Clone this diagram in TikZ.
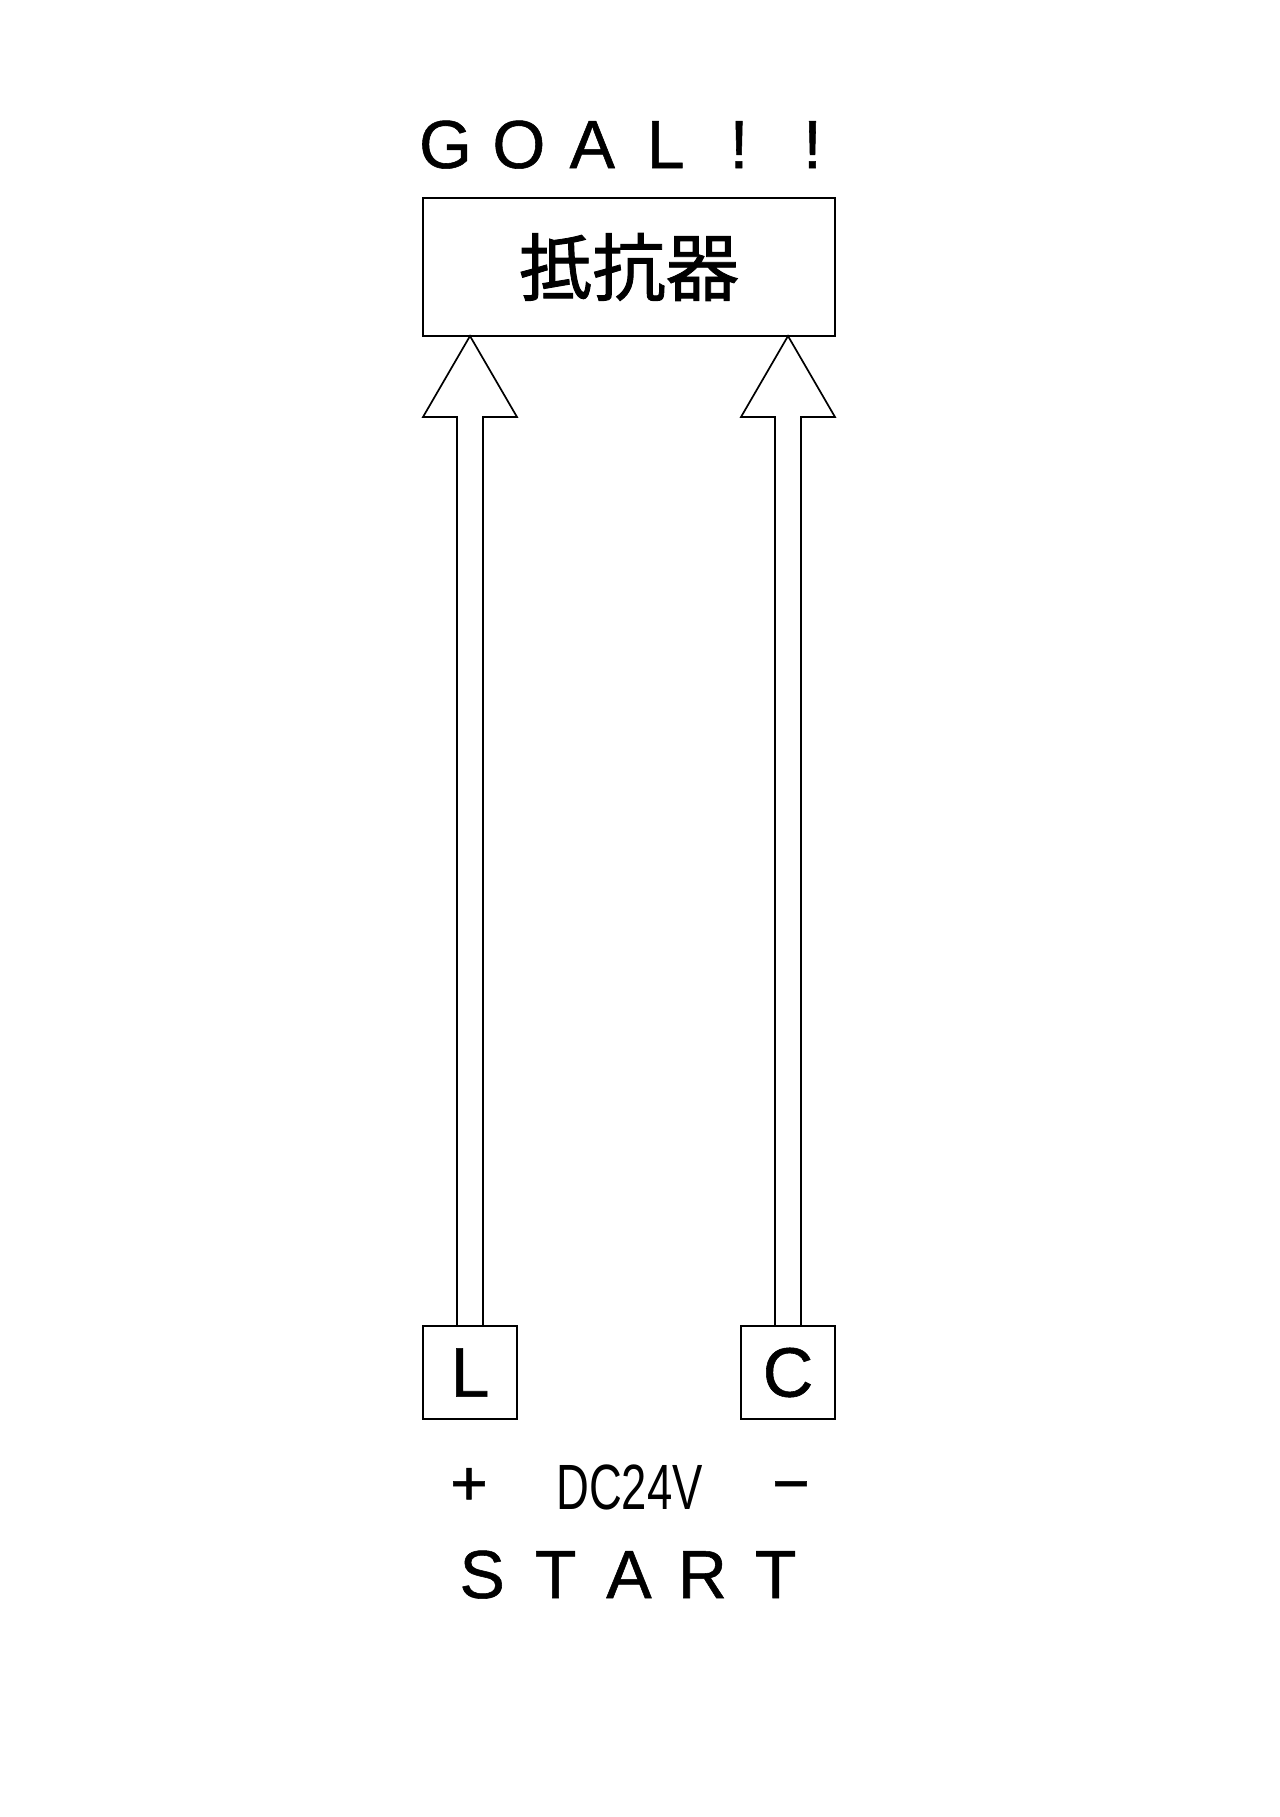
\documentclass[tikz,border=0pt]{standalone}
\usepackage{fontspec}
\setmainfont{Liberation Sans}[FakeBold=0.8]
\newfontfamily\cjk{Noto Sans CJK JP}[FakeBold=1.2]
\newfontfamily\narrowfont{Liberation Sans}
\usetikzlibrary{calc}
\newcommand\fwc[1]{\makebox[36.7pt]{#1}}
\newcommand\blockarrow[2]{%
  \draw[arrowline] ($(#1.north)+(-13,0)$) -- ($(#1.north |- #2.south)+(-13,81)$)
    -- ++(-34,0) -- (#1.north |- #2.south) -- ++(47,81) -- ++(-34,0)
    -- ($(#1.north)+(13,0)$);}
\begin{document}
\begin{tikzpicture}[x=0.5pt,y=-0.5pt,
  box/.style={draw, line width=0.85pt, inner sep=0pt, outer sep=0pt},
  arrowline/.style={draw, line width=0.85pt, line join=miter},
  label/.style={inner sep=0pt, outer sep=0pt, anchor=base}]
\useasboundingbox (0,0) rectangle (1280,1817);
\fill[white] (0,0) rectangle (1280,1817);

\node[label] (goal) at (629,168) {\fontsize{34pt}{40pt}\selectfont\fwc{G}\fwc{O}\fwc{A}\fwc{L}\fwc{!}\fwc{!}};
\node[box, minimum width=206pt, minimum height=69pt] (res) at (629,267)
  {\cjk\fontsize{36.7pt}{40pt}\selectfont 抵抗器};

\node[box, minimum width=47pt, minimum height=46.5pt] (L) at (470,1372.5)
  {\fontsize{35pt}{40pt}\selectfont L};
\node[box, minimum width=47pt, minimum height=46.5pt] (C) at (788,1372.5)
  {\fontsize{35pt}{40pt}\selectfont C};

\blockarrow{L}{res}
\blockarrow{C}{res}

\node[label] (plus) at (469,1505) {\fontsize{32pt}{36pt}\selectfont +};
\node[label] (dc) at (629.5,1509) {\narrowfont\fontsize{32pt}{36pt}\selectfont\scalebox{0.71}[1]{DC24V}};
\node[label] (minus) at (791,1505) {\fontsize{32pt}{36pt}\selectfont −};
\node[label] (start) at (629,1598) {\fontsize{34pt}{40pt}\selectfont\fwc{S}\fwc{T}\fwc{A}\fwc{R}\fwc{T}};
\end{tikzpicture}
\end{document}
